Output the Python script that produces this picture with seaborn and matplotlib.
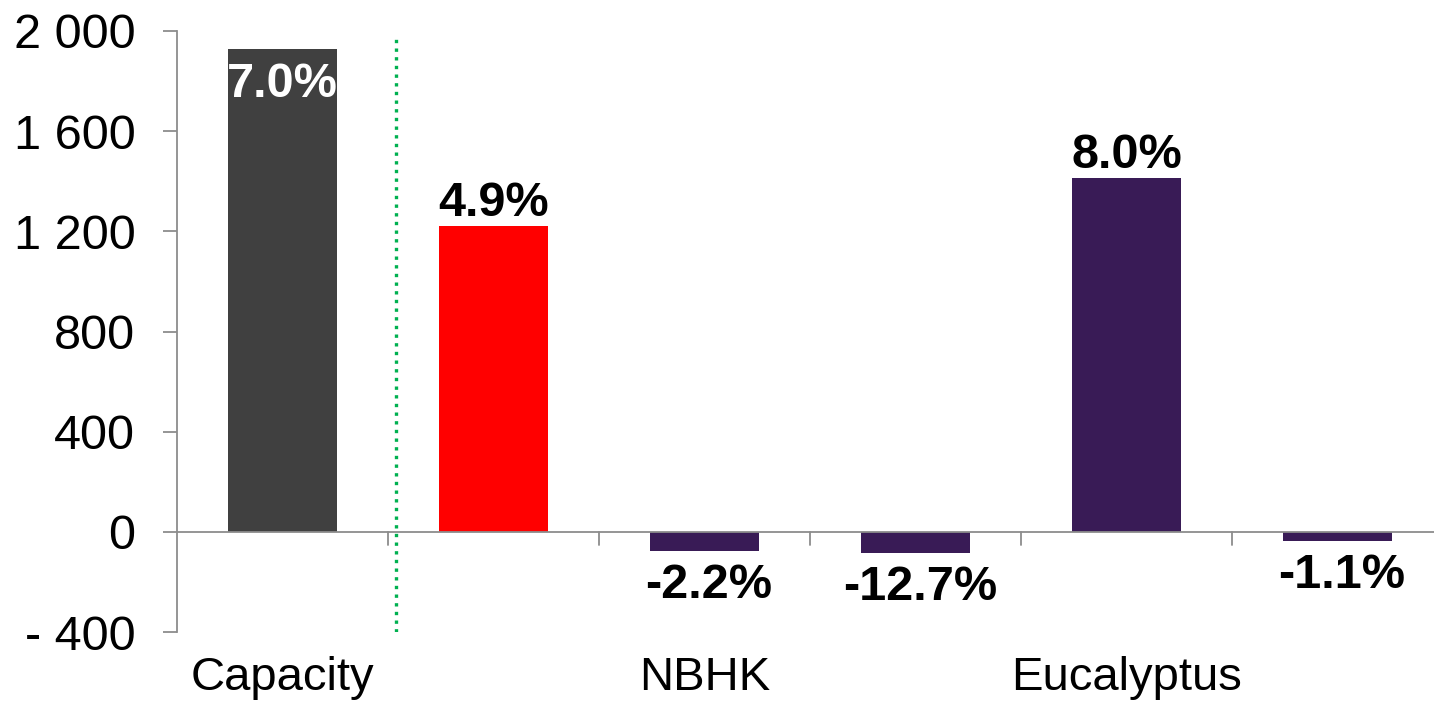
import matplotlib
matplotlib.use("Agg")
import matplotlib.pyplot as plt
import seaborn as sns
import pandas as pd

# ---- data ----
positions = [0, 1, 2, 3, 4, 5]
values = [1928, 1220, -76, -84, 1412, -36]
pct_labels = ["7.0%", "4.9%", "-2.2%", "-12.7%", "8.0%", "-1.1%"]
group_labels = ["Capacity", "", "NBHK", "", "Eucalyptus", ""]
bar_colors = ["#404040", "#FF0000", "#391B56", "#391B56", "#391B56", "#391B56"]
y_ticks = [-400, 0, 400, 800, 1200, 1600, 2000]
y_tick_labels = ["- 400", "0", "400", "800", "1 200", "1 600", "2 000"]

sns.set_theme(style="white")
plt.rcParams["font.family"] = ["Liberation Sans", "DejaVu Sans"]

W, H = 1434, 701
fig = plt.figure(figsize=(W / 100, H / 100), dpi=100)
fig.patch.set_facecolor("white")
left, right = 177 / W, 1443 / W
top, bottom = 1 - 31 / H, 1 - 632 / H
ax = fig.add_axes([left, bottom, right - left, top - bottom])
ax.set_facecolor("none")

df = pd.DataFrame({"pos": positions, "val": values})
sns.barplot(data=df, x="pos", y="val", hue="pos", palette=bar_colors,
            legend=False, width=0.52, ax=ax, saturation=1, edgecolor="none")

ax.set_xlim(-0.5, 5.5)
ax.set_ylim(-400, 2000)

# axes styling
for s in ["top", "right", "bottom"]:
    ax.spines[s].set_visible(False)
ax.spines["left"].set_color("#8C8C8C")
ax.spines["left"].set_linewidth(1.3)
ax.axhline(0, color="#8C8C8C", linewidth=1.3, zorder=1)

ax.set_yticks(y_ticks)
ax.set_yticklabels(y_tick_labels, fontsize=35, color="black")
ax.tick_params(axis="y", which="both", direction="out", length=10, width=1.3,
               color="#8C8C8C", pad=20, left=True)

ax.set_xticks([])
ax.set_xlabel("")
ax.set_ylabel("")

# category boundary ticks on the zero line
for b in [0.5, 1.5, 2.5, 3.5, 4.5]:
    ax.plot([b, b], [0, -52], color="#8C8C8C", linewidth=1.3, zorder=1,
            clip_on=False)

# group labels below axis
for p, lab in zip(positions, group_labels):
    if lab:
        ax.text(p, -632, lab, ha="center", va="baseline", fontsize=34,
                color="black")

# green dotted separator
ax.axvline(0.538, ymin=0, ymax=(632 - 35) / (632 - 31), color="#00B050",
           linestyle=(0, (1, 1.6)), linewidth=2.4, zorder=3)

# value labels
for p, v, lab in zip(positions, values, pct_labels):
    if p == 0:
        ax.text(p, v - 50, lab, ha="center", va="top", fontsize=35,
                fontweight="bold", color="white")
    elif v >= 0:
        ax.text(p, v + 42, lab, ha="center", va="baseline", fontsize=35,
                fontweight="bold", color="black")
    else:
        ax.text(p + 0.02, v - 50, lab, ha="center", va="top", fontsize=35,
                fontweight="bold", color="black")

fig.savefig("out.png", dpi=100, facecolor="white")
